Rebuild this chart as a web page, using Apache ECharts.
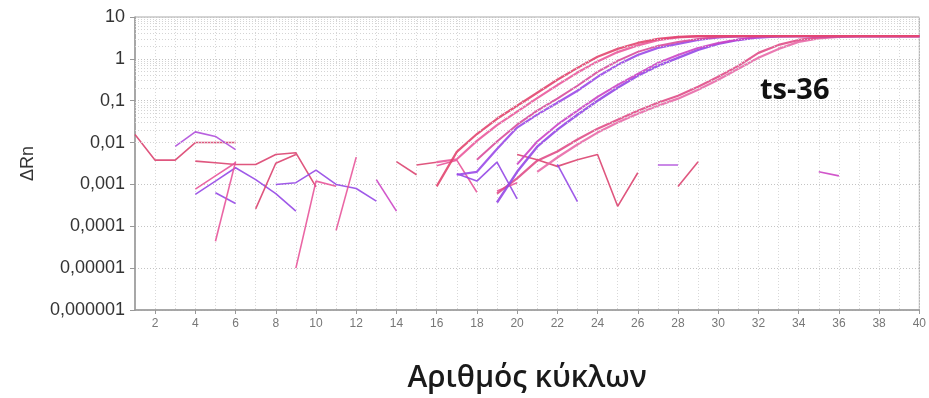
<!DOCTYPE html>
<html>
<head>
<meta charset="utf-8">
<script src="https://cdn.jsdelivr.net/npm/echarts@6/dist/echarts.min.js"></script>
<style>
html,body{margin:0;padding:0;background:#fff;}
#chart{width:929px;height:398px;}
</style>
</head>
<body>
<div id="chart"></div>
<script>
const _ = null;
const cycles = [1,2,3,4,5,6,7,8,9,10,11,12,13,14,15,16,17,18,19,20,21,22,23,24,25,26,27,28,29,30,31,32,33,34,35,36,37,38,39,40];
const yTickLabels = ['0,000001','0,00001','0,0001','0,001','0,01','0,1','1','10'];
const minorGridValues = [
  2e-6,3e-6,4e-6,5e-6,6e-6,7e-6,8e-6,9e-6,
  2e-5,3e-5,4e-5,5e-5,6e-5,7e-5,8e-5,9e-5,
  2e-4,3e-4,4e-4,5e-4,6e-4,7e-4,8e-4,9e-4,
  0.002,0.003,0.004,0.005,0.006,0.007,0.008,0.009,
  0.02,0.03,0.04,0.05,0.06,0.07,0.08,0.09,
  0.2,0.3,0.4,0.5,0.6,0.7,0.8,0.9,
  2,3,4,5,6,7,8,9
];

// amplification curves (cycles grouped by five: 1-5 | 6-10 | 11-15 | 16-20 | 21-25 | 26-30 | 31-35 | 36-40)
const curveA = [_,_,_,_,_, _,_,_,_,_, _,_,_,_,_, 0.0009,0.006,0.016,0.037,0.076, 0.155,0.316,0.61,1.12,1.73, 2.4,2.99,3.34,3.48,3.5, 3.5,3.5,3.5,3.5,3.5, 3.5,3.5,3.5,3.5,3.5];
const curveB = [_,_,_,_,_, _,_,_,_,_, _,_,_,_,_, 0.0034,0.004,0.011,0.026,0.055, 0.115,0.235,0.47,0.87,1.45, 2.1,2.8,3.25,3.45,3.5, 3.5,3.5,3.5,3.5,3.5, 3.5,3.5,3.5,3.5,3.5];
const curveC = [_,_,_,_,_, _,_,_,_,_, _,_,_,_,_, _,0.0017,0.002,0.007,0.0228, 0.0464,0.0896,0.173,0.373,0.72, 1.24,1.83,2.28,2.83,3.25, 3.42,3.5,3.5,3.5,3.5, 3.5,3.5,3.5,3.5,3.5];
const curveD = [_,_,_,_,_, _,_,_,_,_, _,_,_,_,_, _,_,0.0039,0.0106,0.0268, 0.0578,0.112,0.228,0.49,0.896, 1.47,2.04,2.54,2.99,3.34, 3.48,3.5,3.5,3.5,3.5, 3.5,3.5,3.5,3.5,3.5];
const curveE = [_,_,_,_,_, _,_,_,_,_, _,_,_,_,_, _,_,_,0.00037,0.002, 0.008,0.0204,0.0464,0.1,0.204, 0.394,0.68,1.06,1.64,2.28, 2.83,3.25,3.45,3.5,3.5, 3.5,3.5,3.5,3.5,3.5];
const curveF = [_,_,_,_,_, _,_,_,_,_, _,_,_,_,_, _,_,_,_,0.003, 0.0106,0.0268,0.0578,0.124,0.24, 0.44,0.803,1.24,1.83,2.4, 2.91,3.34,3.48,3.5,3.5, 3.5,3.5,3.5,3.5,3.5];
const curveG = [_,_,_,_,_, _,_,_,_,_, _,_,_,_,_, _,_,_,0.0006,0.0014, 0.0037,0.0061,0.0118,0.0215,0.0353, 0.0578,0.0896,0.131,0.215,0.373, 0.68,1.39,2.15,2.83,3.25, 3.45,3.5,3.5,3.5,3.5];
const curveH = [_,_,_,_,_, _,_,_,_,_, _,_,_,_,_, _,_,_,_,_, 0.002,0.0044,0.009,0.0173,0.03, 0.049,0.076,0.112,0.183,0.316, 0.578,1.06,1.73,2.54,3.08, 3.34,3.48,3.5,3.5,3.5];

// background noise fragments
const noise01 = [0.0155,0.0038,0.0038,0.01,0.01, 0.01];
const noise02 = [_,_,0.0081,0.018,0.014, 0.0068];
const noise03 = [_,_,_,0.0036,0.0033, 0.003,0.003,0.0052,0.0057,0.00087];
const noise04 = [_,_,_,0.00077,0.0016, 0.0033];
const noise05 = [_,_,_,0.00058,0.0012, 0.0025,0.0013,0.0006,0.00023];
const noise06 = [_,_,_,_,0.00063, 0.00035];
const noise07 = [_,_,_,_,0.000044, 0.0035];
const noise08 = [_,_,_,_,_, _,0.00026,0.0032,0.0052];
const noise09 = [_,_,_,_,_, _,_,_,0.00001,0.0012, 0.0009];
const noise10 = [_,_,_,_,_, _,_,0.001,0.0011,0.0022, 0.001,0.0008,0.0004];
const noise11 = [_,_,_,_,_, _,_,_,_,_, 0.00008,0.0045];
const noise12 = [_,_,_,_,_, _,_,_,_,_, _,_,0.0013,0.00023];
const noise13 = [_,_,_,_,_, _,_,_,_,_, _,_,_,0.0035,0.0017];
const noise14 = [_,_,_,_,_, _,_,_,_,_, _,_,_,_,0.0029, 0.0034];
const noise15 = [_,_,_,_,_, _,_,_,_,_, _,_,_,_,_, 0.0028,0.0038,0.00065];
const noise16 = [_,_,_,_,_, _,_,_,_,_, _,_,_,_,_, _,0.0018,0.0012,0.0034,0.00045];
const noise17 = [_,_,_,_,_, _,_,_,_,_, _,_,_,_,_, _,_,_,0.0007,0.0011];
const noise18 = [_,_,_,_,_, _,_,_,_,_, _,_,_,_,_, _,_,_,_,0.0052, 0.0039,0.0027,0.0039,0.0052,0.0003, 0.0019];
const noise19 = [_,_,_,_,_, _,_,_,_,_, _,_,_,_,_, _,_,_,_,_, _,0.003,0.00039];
const noise20 = [_,_,_,_,_, _,_,_,_,_, _,_,_,_,_, _,_,_,_,_, _,_,_,_,_, _,0.0029,0.0029];
const noise21 = [_,_,_,_,_, _,_,_,_,_, _,_,_,_,_, _,_,_,_,_, _,_,_,_,_, _,_,0.00089,0.0035];
const noise22 = [_,_,_,_,_, _,_,_,_,_, _,_,_,_,_, _,_,_,_,_, _,_,_,_,_, _,_,_,_,_, _,_,_,_,0.002, 0.0016];

const RED = '#dc4470', PINK = '#e8559a', MAG = '#cc44c4', PUR = '#9548e6', VIO = '#b050dc';

function line(data, color, width, z) {
  return {
    type: 'line', data: data, symbol: 'none', showSymbol: false, connectNulls: false,
    lineStyle: { color: color, width: width || 1.6, opacity: 0.9 }, z: z || 3, silent: true, animation: false
  };
}

const series = [
  line(noise01, RED), line(noise02, VIO), line(noise03, RED), line(noise04, PINK),
  line(noise05, PUR), line(noise06, PUR), line(noise07, PINK), line(noise08, RED),
  line(noise09, PINK), line(noise10, PUR), line(noise11, PINK), line(noise12, MAG),
  line(noise13, RED), line(noise14, RED), line(noise15, PINK), line(noise16, PUR),
  line(noise17, PINK), line(noise18, RED), line(noise19, PUR), line(noise20, VIO),
  line(noise21, RED), line(noise22, MAG),
  line(curveH, '#e86aa8', 2.2, 4), line(curveG, '#e04e88', 2.2, 4),
  line(curveE, PUR, 2.4, 4), line(curveF, MAG, 2, 4),
  line(curveC, '#9a4ae8', 2.2, 4), line(curveD, '#d84c9c', 2, 4),
  line(curveB, '#ea5a9c', 2.2, 4), line(curveA, '#e2456f', 2.2, 4)
];

series[0].markLine = {
  silent: true, symbol: 'none', animation: false, label: { show: false },
  lineStyle: { color: '#d4d4d4', type: [1, 2], width: 1 },
  data: minorGridValues.map(v => ({ yAxis: v }))
};

const chart = echarts.init(document.getElementById('chart'), null, { renderer: 'canvas' });
chart.setOption({
  backgroundColor: '#ffffff',
  animation: false,
  title: {
    text: 'ts-36', left: 755, top: 71,
    textStyle: { fontFamily: 'Open Sans', fontSize: 29, fontWeight: 'bold', color: '#111' }
  },
  grid: { left: 135, right: 9, top: 17, bottom: 87, show: true, borderColor: '#a8a8a8', borderWidth: 1 },
  xAxis: {
    type: 'category', data: cycles, boundaryGap: false,
    name: 'Αριθμός κύκλων', nameLocation: 'middle', nameGap: 53,
    nameTextStyle: { fontFamily: 'Open Sans', fontSize: 30, fontWeight: 600, color: '#1a1a1a' },
    axisLine: { lineStyle: { color: '#999', width: 1.5 } },
    axisTick: { show: true, length: 4, interval: (i) => i % 2 === 1, lineStyle: { color: '#999' } },
    axisLabel: { interval: (i) => i % 2 === 1, fontFamily: 'Liberation Sans', fontSize: 12, color: '#777', margin: 8 },
    splitLine: { show: true, interval: 0, lineStyle: { color: '#d8d8d8', type: [1, 2], width: 1 } }
  },
  yAxis: {
    type: 'log', logBase: 10, min: 0.000001, max: 10,
    name: 'ΔRn', nameLocation: 'middle', nameGap: 98,
    nameTextStyle: { fontFamily: 'Liberation Sans', fontSize: 18, color: '#333' },
    axisLine: { show: true, lineStyle: { color: '#999', width: 1.5 } },
    axisTick: { show: true, length: 5, lineStyle: { color: '#999' } },
    axisLabel: {
      fontFamily: 'Liberation Sans', fontSize: 18, color: '#333', margin: 10,
      formatter: (v) => yTickLabels[Math.round(Math.log10(v)) + 6]
    },
    splitLine: { show: true, lineStyle: { color: '#c4c4c4', type: [1, 2], width: 1 } }
  },
  series: series
});
</script>
</body>
</html>
